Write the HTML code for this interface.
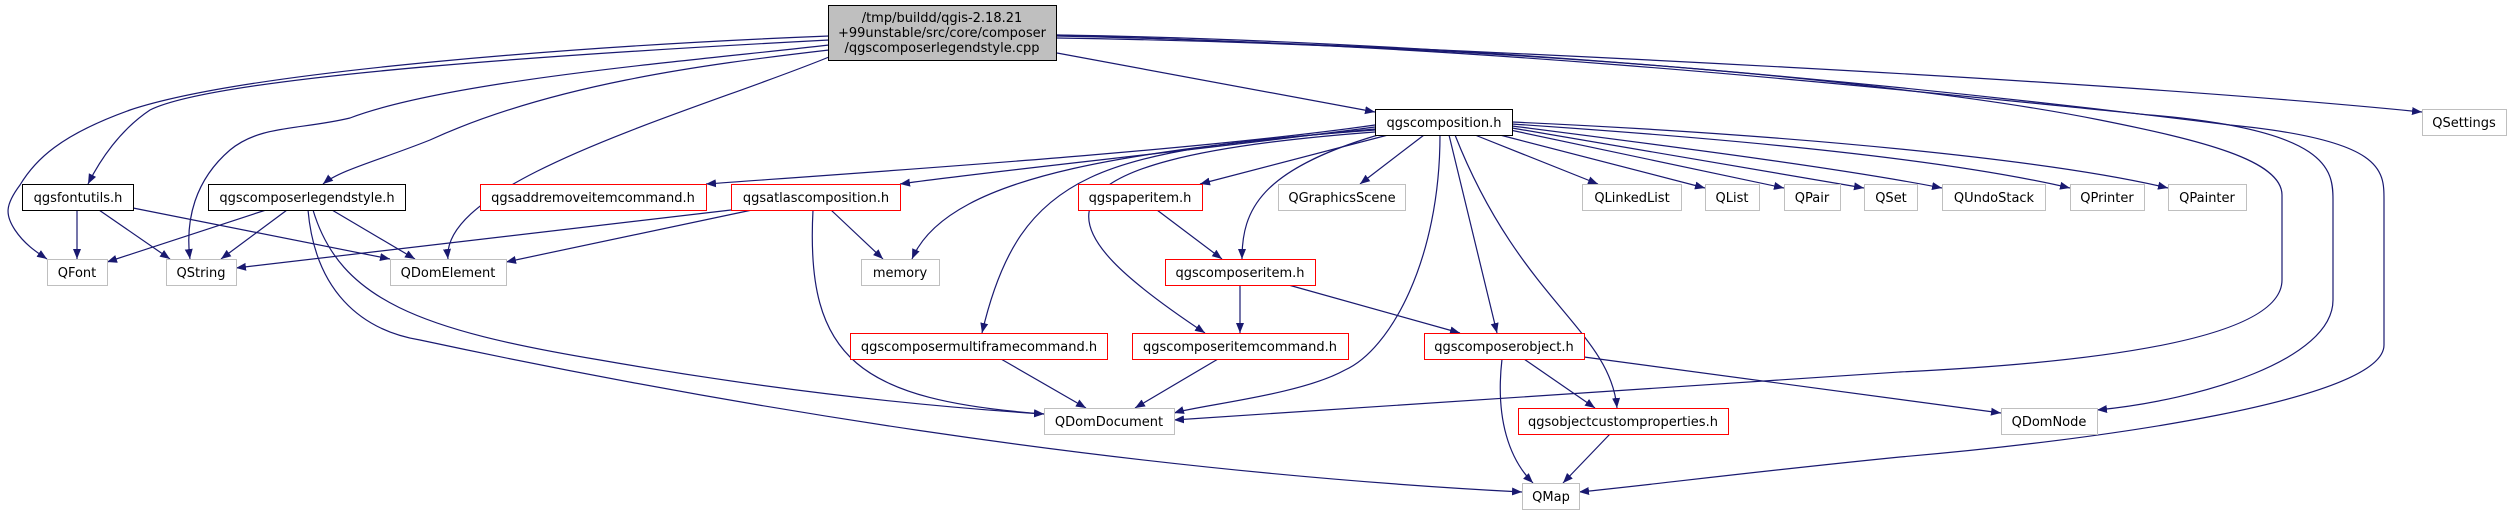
<!DOCTYPE html>
<html><head><meta charset="utf-8"><style>
html,body{margin:0;padding:0;background:#fff;}
svg{display:block}
text{font-family:"DejaVu Sans","Liberation Sans",sans-serif;font-size:13px;fill:#000}
</style></head><body>
<svg width="2512" height="515" viewBox="0 0 2512 515" xmlns="http://www.w3.org/2000/svg">
<defs>
<marker id="a" viewBox="0 0 10 10" refX="10" refY="5" markerWidth="10" markerHeight="10" markerUnits="userSpaceOnUse" orient="auto">
<path d="M0,1 L10,5 L0,9 z" fill="#191970"/></marker>
</defs>
<g fill="none" stroke="#191970" stroke-width="1.2" marker-end="url(#a)">
<!-- main edges -->
<path d="M829,36 C600,45 250,70 130,110 C60,135 35,160 20,185 C5,205 5,215 15,230 C25,245 38,253 47,259"/>
<path d="M829,40 C600,52 220,75 150,110 C120,130 100,160 88,184"/>
<path d="M829,45 C700,60 450,80 350,118 C300,130 260,125 230,150 C195,180 185,220 190,259"/>
<path d="M829,50 C700,65 550,85 430,140 C380,160 340,170 323,184"/>
<path d="M829,57 C700,110 440,180 448,259"/>
<path d="M1057,53 L1375,112"/>
<path d="M1057,35 C1500,50 2100,80 2422,112"/>
<path d="M1057,38 C1500,45 1900,80 2100,120 C2200,140 2282,160 2282,195 L2282,280 C2282,330 2150,360 1900,372 C1600,390 1300,412 1174,420"/>
<path d="M1057,36 C1500,45 1900,90 2150,115 C2330,130 2333,170 2333,200 L2333,300 C2333,360 2200,400 2097,410"/>
<path d="M1057,35 C1500,42 1950,90 2230,125 C2384,140 2384,170 2384,200 L2384,345 C2384,400 2100,440 1900,457 C1750,472 1650,485 1579,492"/>
<!-- qgscomposition edges -->
<path d="M1375,125 C1200,150 900,170 706,184"/>
<path d="M1375,127 C1200,150 1000,170 900,184"/>
<path d="M1375,129 C1150,150 950,170 912,259"/>
<path d="M1375,130 C1100,150 1020,170 982,333"/>
<path d="M1375,132 C1000,160 1050,230 1205,333"/>
<path d="M1388,135 L1200,184"/>
<path d="M1378,135 C1260,170 1242,210 1242,259"/>
<path d="M1424,135 L1360,184"/>
<path d="M1440,135 C1440,260 1390,350 1345,370 C1300,395 1200,405 1174,413"/>
<path d="M1449,135 L1497,333"/>
<path d="M1455,135 C1520,300 1610,330 1617,408"/>
<path d="M1475,135 L1598,184"/>
<path d="M1500,135 L1705,188"/>
<path d="M1510,130 L1784,188"/>
<path d="M1512,128 L1864,188"/>
<path d="M1512,126 C1700,150 1850,170 1942,188"/>
<path d="M1512,124 C1750,140 1950,160 2070,188"/>
<path d="M1512,122 C1800,135 2050,160 2168,188"/>
<!-- qgsfontutils -->
<path d="M77,210 L77,259"/>
<path d="M99,210 L170,259"/>
<path d="M133,208 L390,259"/>
<!-- legendstyle -->
<path d="M266,210 L107,262"/>
<path d="M287,210 L221,259"/>
<path d="M332,210 L415,259"/>
<path d="M313,210 C340,300 420,330 600,360 C800,395 950,408 1044,414"/>
<path d="M308,210 C315,290 360,330 420,340 C700,400 1100,470 1522,492"/>
<!-- atlas -->
<path d="M731,210 L236,268"/>
<path d="M752,210 L506,262"/>
<path d="M831,210 L883,259"/>
<path d="M813,210 C805,360 860,400 1044,414"/>
<!-- others -->
<path d="M1157,210 L1222,259"/>
<path d="M1240,284 L1240,333"/>
<path d="M1285,284 L1460,333"/>
<path d="M1001,359 L1086,408"/>
<path d="M1218,359 L1135,408"/>
<path d="M1524,359 L1595,408"/>
<path d="M1502,359 C1495,420 1510,460 1533,483"/>
<path d="M1584,357 L2001,413"/>
<path d="M1610,434 L1563,483"/>
</g>
<g stroke-width="1">
<rect x="828.5" y="5.5" width="228" height="55" fill="#bfbfbf" stroke="#000"/>
<text x="942" y="22" text-anchor="middle">/tmp/buildd/qgis-2.18.21</text>
<text x="942" y="37" text-anchor="middle">+99unstable/src/core/composer</text>
<text x="942" y="52" text-anchor="middle">/qgscomposerlegendstyle.cpp</text>

<g fill="#fff" stroke="#000">
<rect x="22.5" y="184.5" width="111" height="26"/>
<rect x="208.5" y="184.5" width="197" height="26"/>
<rect x="1375.5" y="109.5" width="137" height="26"/>
</g>
<g fill="#fff" stroke="#ff0000">
<rect x="480.5" y="184.5" width="226" height="26"/>
<rect x="731.5" y="184.5" width="169" height="26"/>
<rect x="1078.5" y="184.5" width="124" height="26"/>
<rect x="1165.5" y="259.5" width="150" height="26"/>
<rect x="850.5" y="333.5" width="257" height="26"/>
<rect x="1132.5" y="333.5" width="216" height="26"/>
<rect x="1424.5" y="333.5" width="160" height="26"/>
<rect x="1518.5" y="408.5" width="210" height="26"/>
</g>
<g fill="#fff" stroke="#bfbfbf">
<rect x="47.5" y="259.5" width="60" height="26"/>
<rect x="166.5" y="259.5" width="70" height="26"/>
<rect x="390.5" y="259.5" width="116" height="26"/>
<rect x="861.5" y="259.5" width="78" height="26"/>
<rect x="1044.5" y="408.5" width="130" height="26"/>
<rect x="1278.5" y="184.5" width="127" height="26"/>
<rect x="1582.5" y="184.5" width="99" height="26"/>
<rect x="1705.5" y="184.5" width="54" height="26"/>
<rect x="1784.5" y="184.5" width="56" height="26"/>
<rect x="1864.5" y="184.5" width="53" height="26"/>
<rect x="1942.5" y="184.5" width="103" height="26"/>
<rect x="2070.5" y="184.5" width="74" height="26"/>
<rect x="2168.5" y="184.5" width="78" height="26"/>
<rect x="2422.5" y="109.5" width="84" height="26"/>
<rect x="2001.5" y="408.5" width="96" height="26"/>
<rect x="1522.5" y="483.5" width="57" height="26"/>
</g>
</g>
<g text-anchor="middle">
<text x="78" y="202">qgsfontutils.h</text>
<text x="307" y="202">qgscomposerlegendstyle.h</text>
<text x="1444" y="127">qgscomposition.h</text>
<text x="593" y="202">qgsaddremoveitemcommand.h</text>
<text x="816" y="202">qgsatlascomposition.h</text>
<text x="1140" y="202">qgspaperitem.h</text>
<text x="1240" y="277">qgscomposeritem.h</text>
<text x="979" y="351">qgscomposermultiframecommand.h</text>
<text x="1240" y="351">qgscomposeritemcommand.h</text>
<text x="1504" y="351">qgscomposerobject.h</text>
<text x="1623" y="426">qgsobjectcustomproperties.h</text>
<text x="77" y="277">QFont</text>
<text x="201" y="277">QString</text>
<text x="448" y="277">QDomElement</text>
<text x="900" y="277">memory</text>
<text x="1109" y="426">QDomDocument</text>
<text x="1342" y="202">QGraphicsScene</text>
<text x="1632" y="202">QLinkedList</text>
<text x="1732" y="202">QList</text>
<text x="1812" y="202">QPair</text>
<text x="1891" y="202">QSet</text>
<text x="1994" y="202">QUndoStack</text>
<text x="2107" y="202">QPrinter</text>
<text x="2207" y="202">QPainter</text>
<text x="2464" y="127">QSettings</text>
<text x="2049" y="426">QDomNode</text>
<text x="1551" y="501">QMap</text>
</g>
</svg>
</body></html>
